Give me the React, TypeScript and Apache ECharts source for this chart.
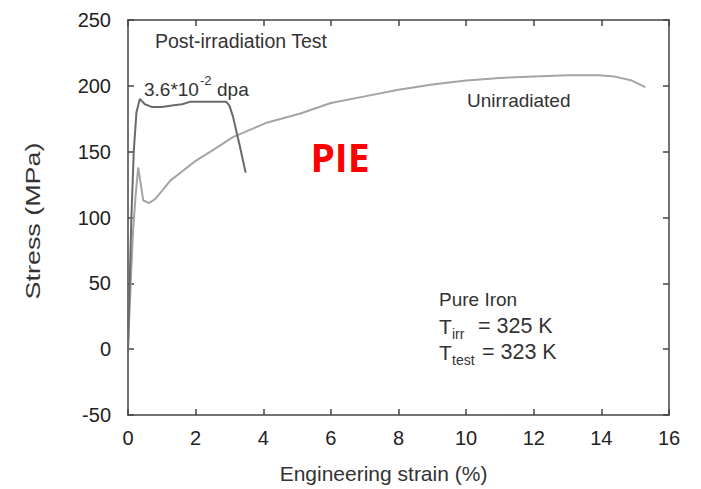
import React, { useEffect, useRef } from "react";
import * as echarts from "echarts";

const irrStrain = [0, 0.05, 0.1, 0.17, 0.25, 0.35, 0.5, 0.7, 1.0, 1.3, 1.6, 1.85, 2.2, 2.6, 2.9, 3.0, 3.1, 3.2, 3.3, 3.48];
const irrStress = [0, 50, 100, 150, 180, 190, 186, 184, 184, 185, 186, 188, 188, 188, 188, 185, 177, 166, 155, 134];

const unirrStrain = [0, 0.08, 0.15, 0.22, 0.3, 0.38, 0.45, 0.62, 0.8, 1.0, 1.25, 1.55, 2.0, 2.5, 3.1, 4.1, 5.1, 6.0, 7.0, 8.0, 9.0, 10.0, 11.0, 12.0, 13.0, 13.9, 14.4, 14.9, 15.3];
const unirrStress = [0, 50, 90, 115, 138, 125, 113, 111, 114, 120, 128, 134, 143, 151, 161, 172, 179, 187, 192, 197, 201, 204, 206, 207, 208, 208, 207, 204, 199];

const xTicks = { min: 0, max: 16, interval: 2 };
const yTicks = { min: -50, max: 250, interval: 50 };

const FONT = "Liberation Sans, Arial, sans-serif";
const TXT = "#333";

export default function App() {
  const ref = useRef<HTMLDivElement>(null);
  useEffect(() => {
    if (!ref.current) return;
    const chart = echarts.init(ref.current, null, { renderer: "svg" });
    const axisLine = { show: true, onZero: false, lineStyle: { color: "#444", width: 1.5 } };
    const tick = { show: true, inside: true, length: 6, lineStyle: { color: "#444", width: 1.5 } };
    const label = { fontSize: 20, color: "#222", fontFamily: FONT };
    const txt = (text: string, x: number, y: number, size: number, extra: any = {}) => ({
      type: "text",
      x,
      y,
      style: { text, fill: TXT, font: `${size}px ${FONT}`, textVerticalAlign: "middle", ...extra },
      z: 10,
    });
    chart.setOption({
      animation: false,
      backgroundColor: "#fff",
      grid: {
        left: 128,
        top: 20,
        right: 32,
        bottom: 74,
        containLabel: false,
        outerBoundsMode: "none",
      },
      xAxis: [
        {
          type: "value",
          ...xTicks,
          position: "bottom",
          name: "Engineering strain (%)",
          nameLocation: "middle",
          nameGap: 48,
          nameTextStyle: { fontSize: 21, color: TXT, fontFamily: FONT, padding: [0, 30, 0, 0] },
          axisLine,
          axisTick: tick,
          axisLabel: { ...label, margin: 13 },
          splitLine: { show: false },
        },
        {
          type: "value",
          ...xTicks,
          position: "top",
          axisLine,
          axisTick: tick,
          axisLabel: { show: false },
          splitLine: { show: false },
        },
      ],
      yAxis: [
        {
          type: "value",
          ...yTicks,
          position: "left",
          axisLine,
          axisTick: tick,
          axisLabel: { ...label, margin: 17 },
          splitLine: { show: false },
        },
        {
          type: "value",
          ...yTicks,
          position: "right",
          axisLine,
          axisTick: tick,
          axisLabel: { show: false },
          splitLine: { show: false },
        },
      ],
      series: [
        {
          type: "line",
          name: "Unirradiated",
          data: unirrStrain.map((x, i) => [x, unirrStress[i]]),
          showSymbol: false,
          lineStyle: { color: "#a4a4a4", width: 2 },
          z: 2,
        },
        {
          type: "line",
          name: "3.6e-2 dpa",
          data: irrStrain.map((x, i) => [x, irrStress[i]]),
          showSymbol: false,
          lineStyle: { color: "#6a6a6a", width: 2 },
          z: 3,
        },
      ],
      graphic: [
        {
          type: "text",
          x: 33,
          y: 221,
          rotation: Math.PI / 2,
          scaleX: 1.28,
          style: {
            text: "Stress (MPa)",
            fill: TXT,
            font: `21px ${FONT}`,
            textAlign: "center",
            textVerticalAlign: "middle",
          },
          z: 10,
        },
        txt("Post-irradiation Test", 155, 41, 19.5),
        txt("3.6*10", 144, 89, 19),
        txt("-2", 200, 80, 13),
        txt("dpa", 217, 89, 19),
        txt("Unirradiated", 467, 100, 19),
        {
          type: "text",
          x: 340,
          y: 156,
          style: {
            text: "PIE",
            fill: "#ff0000",
            font: `bold 39px "Open Sans", sans-serif`,
            textAlign: "center",
            textVerticalAlign: "middle",
          },
          z: 10,
        },
        txt("Pure Iron", 439, 299, 19),
        txt("T", 439, 326, 21),
        txt("irr", 452, 334, 14),
        txt("= 325 K", 478, 326, 21.5),
        txt("T", 439, 352, 21),
        txt("test", 452, 360, 14),
        txt("= 323 K", 482, 352, 21.5),
      ],
    });
    return () => chart.dispose();
  }, []);
  return (
    <div
      ref={ref}
      style={{ position: "fixed", left: 0, top: 0, width: 701, height: 489 }}
    />
  );
}
